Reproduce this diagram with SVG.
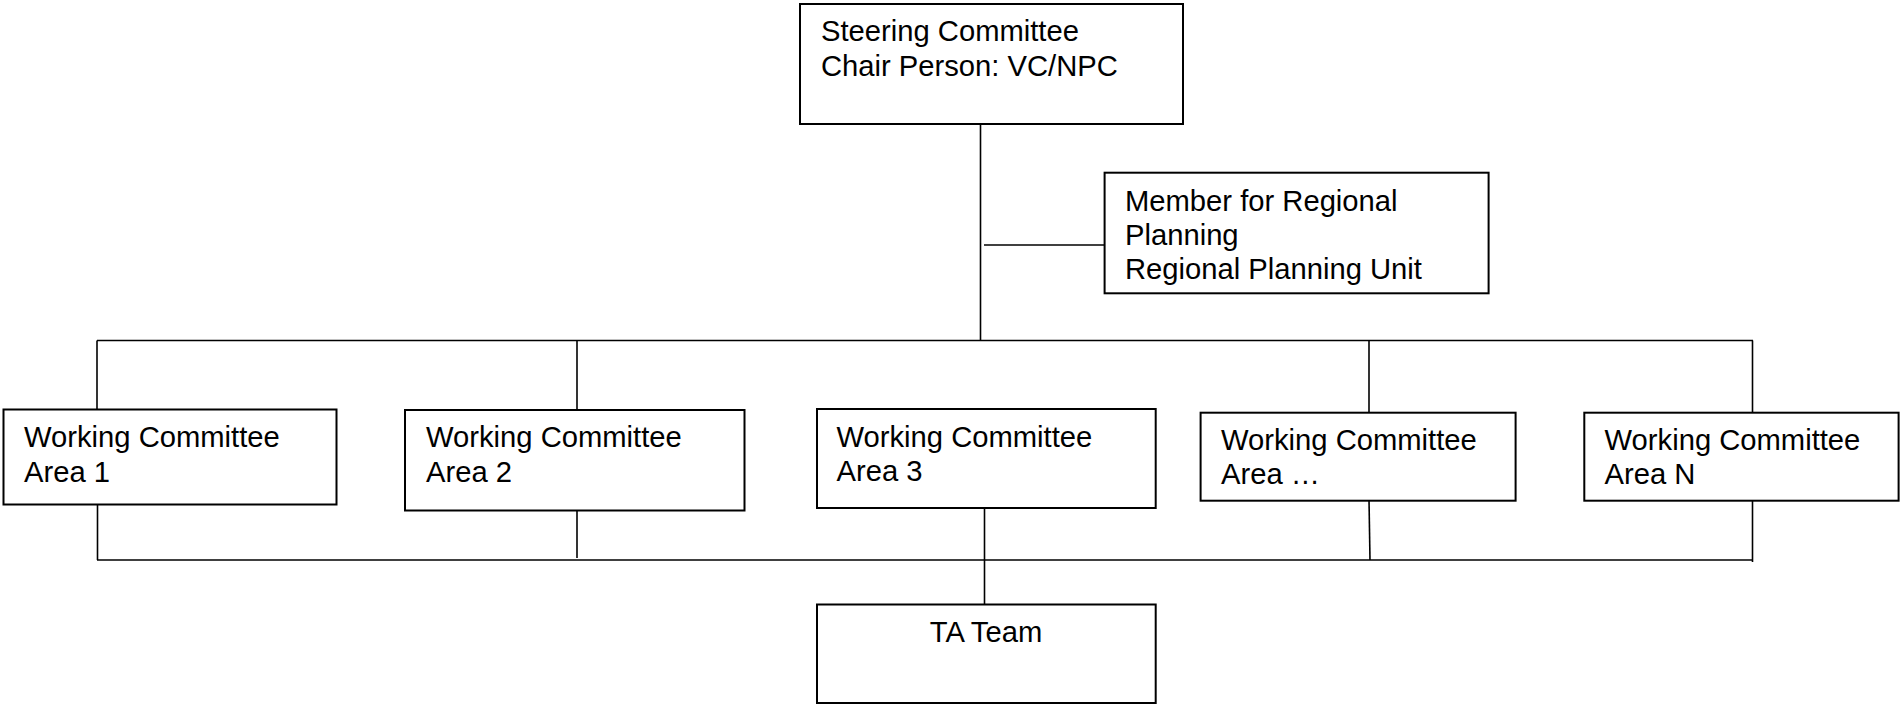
<svg xmlns="http://www.w3.org/2000/svg" width="1900" height="704" viewBox="0 0 1900 704">
<style>
.box{fill:#fff;stroke:#000;stroke-width:2}
.t{font-family:"Liberation Sans",Arial,sans-serif;font-size:29.2px;fill:#000}
.c{stroke:#000;stroke-width:1.6;fill:none}
</style>
<rect width="1900" height="704" fill="#fff"/>
<g id="connectors">
<line class="c" x1="980.5" y1="124" x2="980.5" y2="341"/>
<line class="c" x1="984" y1="245" x2="1104.6" y2="245"/>
<line class="c" x1="97" y1="340.5" x2="1753" y2="340.5"/>
<line class="c" x1="97" y1="340.5" x2="97" y2="410"/>
<line class="c" x1="577" y1="340.5" x2="577" y2="410"/>
<line class="c" x1="1369" y1="340.5" x2="1369" y2="413"/>
<line class="c" x1="1752.5" y1="340.5" x2="1752.5" y2="413"/>
<line class="c" x1="97" y1="560" x2="1753" y2="560"/>
<line class="c" x1="97.5" y1="504" x2="97.5" y2="560"/>
<line class="c" x1="577" y1="510" x2="577" y2="558"/>
<line class="c" x1="984.5" y1="508" x2="984.5" y2="605"/>
<line class="c" x1="1369" y1="499" x2="1370" y2="560"/>
<line class="c" x1="1752.5" y1="500" x2="1752.5" y2="562"/>
</g>
<g id="steering">
<rect class="box" x="800" y="4" width="383" height="120"/>
<text class="t" x="821" y="40.5">Steering Committee</text>
<text class="t" x="821" y="75.5">Chair Person: VC/NPC</text>
</g>
<g id="member">
<rect class="box" x="1104.6" y="172.7" width="384" height="120.6"/>
<text class="t" x="1125" y="211">Member for Regional</text>
<text class="t" x="1125" y="245">Planning</text>
<text class="t" x="1125" y="279">Regional Planning Unit</text>
</g>
<g id="wc1">
<rect class="box" x="3.5" y="409.5" width="333" height="95"/>
<text class="t" x="24" y="446.5">Working Committee</text>
<text class="t" x="24" y="481.5">Area 1</text>
</g>
<g id="wc2">
<rect class="box" x="405" y="410" width="339.5" height="100.5"/>
<text class="t" x="426" y="447">Working Committee</text>
<text class="t" x="426" y="482">Area 2</text>
</g>
<g id="wc3">
<rect class="box" x="817" y="409" width="338.7" height="99"/>
<text class="t" x="836.5" y="446.5">Working Committee</text>
<text class="t" x="836.5" y="481">Area 3</text>
</g>
<g id="wcdots">
<rect class="box" x="1200.6" y="412.7" width="315" height="88"/>
<text class="t" x="1221" y="450">Working Committee</text>
<text class="t" x="1221" y="483.5">Area …</text>
</g>
<g id="wcn">
<rect class="box" x="1584.3" y="412.7" width="314.3" height="88"/>
<text class="t" x="1604.6" y="450">Working Committee</text>
<text class="t" x="1604.6" y="483.5">Area N</text>
</g>
<g id="ta">
<rect class="box" x="817" y="604.5" width="338.7" height="98.5"/>
<text class="t" x="986" y="642" text-anchor="middle">TA Team</text>
</g>
</svg>
